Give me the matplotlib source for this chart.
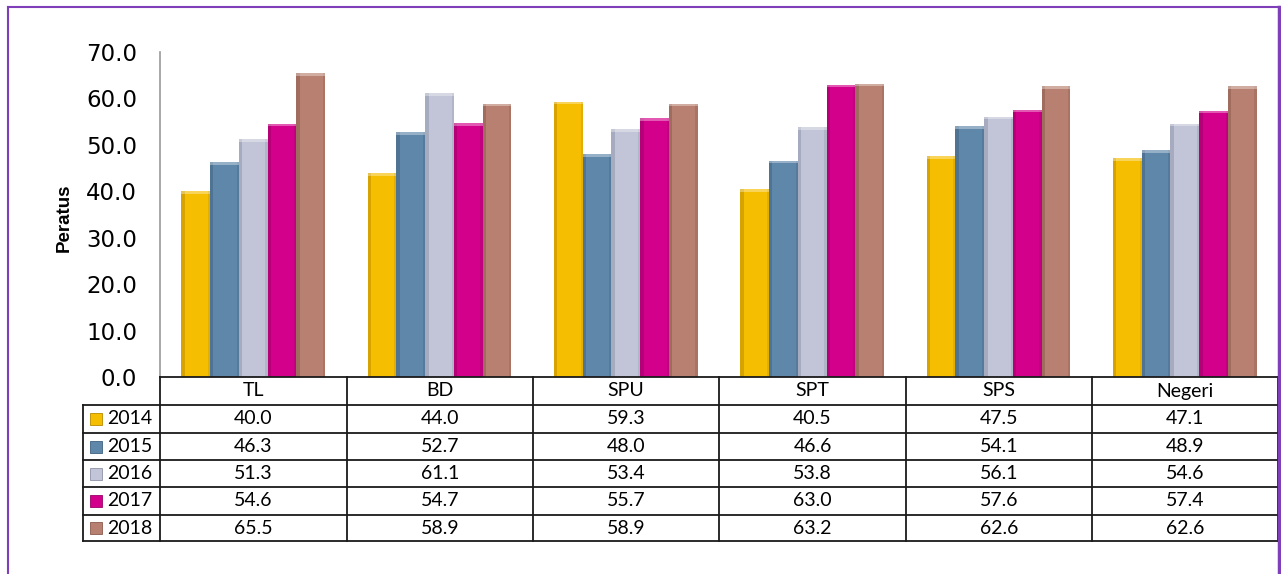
"""Peratus by district, 2014-2018, bar chart with data table."""
import matplotlib
matplotlib.use("Agg")
import matplotlib.pyplot as plt
from matplotlib.patches import Rectangle
from matplotlib.lines import Line2D
import numpy as np

categories = ["TL", "BD", "SPU", "SPT", "SPS", "Negeri"]
years = ["2014", "2015", "2016", "2017", "2018"]
values = {
    "2014": [40.0, 44.0, 59.3, 40.5, 47.5, 47.1],
    "2015": [46.3, 52.7, 48.0, 46.6, 54.1, 48.9],
    "2016": [51.3, 61.1, 53.4, 53.8, 56.1, 54.6],
    "2017": [54.6, 54.7, 55.7, 63.0, 57.6, 57.4],
    "2018": [65.5, 58.9, 58.9, 63.2, 62.6, 62.6],
}
colors = ["#F5BE00", "#5F87AA", "#C1C5D7", "#D3008B", "#B88070"]
dark = ["#B88A00", "#3F607E", "#8E92A8", "#9A0066", "#8A5A4C"]

W, H = 1281, 574
fig = plt.figure(figsize=(W / 100, H / 100), dpi=100)


def fx(px):
    return px / W


def fy(py):
    return 1 - py / H


# plot area
x0, x1, ytop, ybot = 160, 1278, 52, 377
ax = fig.add_axes([fx(x0), fy(ybot), fx(x1 - x0), fy(ytop) - fy(ybot)])
ax.set_xlim(0, len(categories))
ax.set_ylim(0, 70)
for s in ["top", "right", "bottom"]:
    ax.spines[s].set_visible(False)
ax.spines["left"].set_color("#9A9A9A")
ax.spines["left"].set_linewidth(1.2)
ax.set_xticks([])
ax.set_yticks(np.arange(0, 71, 10))
ax.set_yticklabels([f"{v:.1f}" for v in np.arange(0, 71, 10)],
                   fontsize=16.5, family="DejaVu Sans")
ax.tick_params(axis="y", length=0, pad=16.5)
ax.set_ylabel("Peratus", fontsize=13.5, fontweight="bold",
              family="Liberation Sans")
ax.yaxis.set_label_coords(-0.078, 0.49)

bw = 0.154
xs = np.arange(len(categories)) + 0.5
for i, y in enumerate(years):
    pos = xs + (i - 2) * bw
    ax.bar(pos, values[y], width=bw, color=colors[i], edgecolor="none", zorder=2)
    # bevel shading: darker left strip, light top strip
    ax.bar(pos - bw / 2 + 0.009, values[y], width=0.018, color=dark[i],
           alpha=0.5, edgecolor="none", zorder=3)
    ax.bar(pos + bw / 2 - 0.006, values[y], width=0.012, color=dark[i],
           alpha=0.3, edgecolor="none", zorder=3)
    ax.bar(pos, [0.6] * len(pos), bottom=np.array(values[y]) - 0.6, width=bw,
           color="white", alpha=0.35, edgecolor="none", zorder=3)

# data table
col_edges = [160, 347, 533, 719, 906, 1092, 1278]
row_edges = [377, 405, 433, 460, 487, 515, 541]
tab_left = 83
lc = "#1A1A1A"
lw = 1.3
tfont = ["Lato", "DejaVu Sans"]
tsize = 14


def hline(x_a, x_b, y):
    fig.add_artist(Line2D([fx(x_a), fx(x_b)], [fy(y), fy(y)], color=lc, lw=lw))


def vline(x, y_a, y_b):
    fig.add_artist(Line2D([fx(x), fx(x)], [fy(y_a), fy(y_b)], color=lc, lw=lw))


hline(col_edges[0], col_edges[-1], row_edges[0])
for r in row_edges[1:]:
    hline(tab_left, col_edges[-1], r)
vline(tab_left, row_edges[1], row_edges[-1])
for c in col_edges:
    vline(c, row_edges[0], row_edges[-1])

for j, cat in enumerate(categories):
    cx = (col_edges[j] + col_edges[j + 1]) / 2
    cy = (row_edges[0] + row_edges[1]) / 2
    fig.text(fx(cx), fy(cy), cat, ha="center", va="center", fontsize=tsize,
             family=tfont)
    for i, y in enumerate(years):
        cy = (row_edges[i + 1] + row_edges[i + 2]) / 2
        fig.text(fx(cx), fy(cy), f"{values[y][j]:.1f}", ha="center",
                 va="center", fontsize=tsize, family=tfont)

for i, y in enumerate(years):
    cy = (row_edges[i + 1] + row_edges[i + 2]) / 2
    fig.add_artist(Rectangle((fx(90), fy(cy + 6)), fx(12), fy(0) - fy(12),
                             facecolor=colors[i], edgecolor=dark[i], lw=0.6))
    fig.text(fx(107), fy(cy), y, ha="left", va="center", fontsize=tsize,
             family=tfont)

# purple outer frame
frame = "#7E3FB8"
fig.add_artist(Line2D([fx(8), fx(8)], [fy(7), fy(580)], color=frame, lw=1.5))
fig.add_artist(Line2D([fx(8), fx(1279)], [fy(7), fy(7)], color=frame, lw=1.5))
fig.add_artist(Line2D([fx(1279), fx(1279)], [fy(7), fy(580)], color=frame, lw=2.5))

fig.savefig("out.png", dpi=100)
